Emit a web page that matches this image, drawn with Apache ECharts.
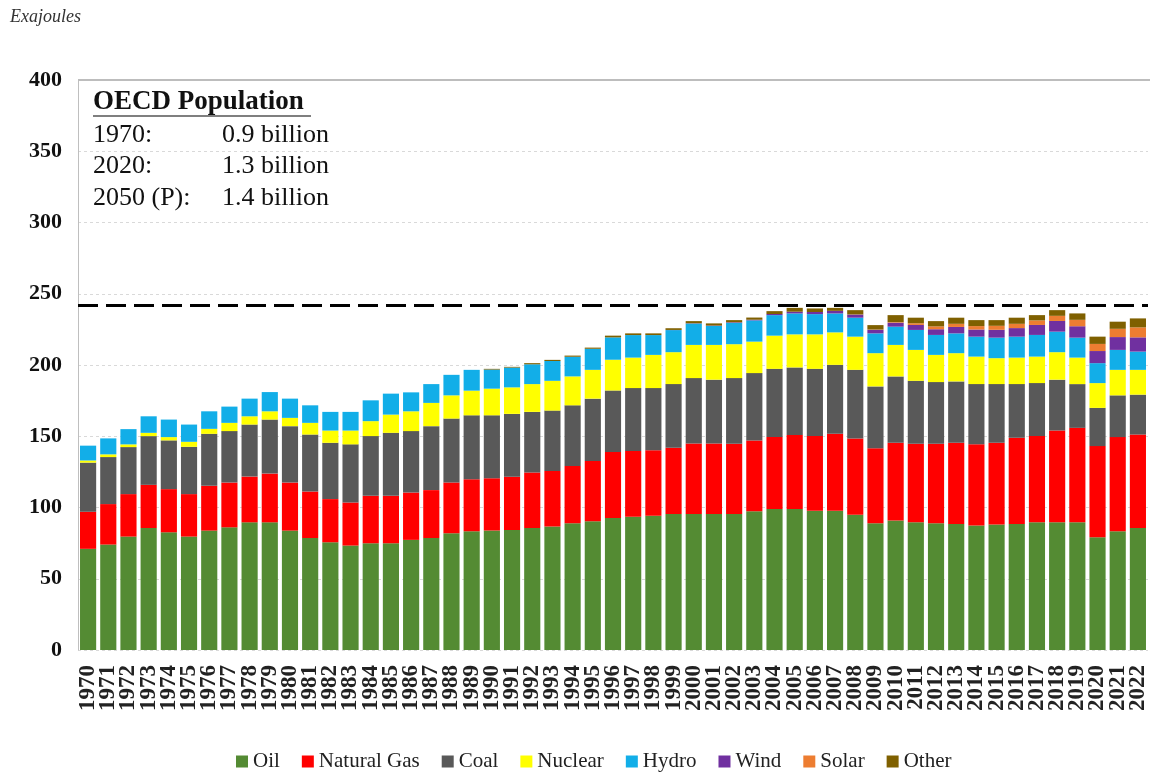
<!DOCTYPE html>
<html>
<head>
<meta charset="utf-8">
<script src="https://cdn.jsdelivr.net/npm/echarts@6/dist/echarts.min.js"></script>
<style>
  html, body { margin: 0; padding: 0; background: #fff; }
  #chart { width: 1150px; height: 773px; }
</style>
</head>
<body>
<div id="chart"></div>
<script>
const years = [];
for (let y = 1970; y <= 2022; y++) years.push(String(y));

const oil = [71.0, 74.0, 79.6, 85.6, 82.6, 79.6, 83.8, 86.1, 89.6, 89.6,
  83.8, 78.6, 75.6, 73.3, 74.9, 74.9, 77.3, 78.6, 81.9, 83.3,
  83.8, 84.2, 85.6, 86.6, 88.9, 90.3, 92.6, 93.5, 94.2, 95.4,
  95.4, 95.4, 95.4, 97.3, 98.9, 98.9, 97.7, 97.7, 94.9, 88.9,
  90.8, 89.6, 88.9, 88.4, 87.3, 88.0, 88.4, 89.6, 89.6, 89.6,
  79.1, 83.3, 85.6];
const gas = [26.0, 28.4, 29.8, 30.3, 30.3, 29.8, 31.4, 31.4, 32.1, 34.2,
  33.7, 32.6, 30.3, 30.2, 33.3, 33.3, 33.2, 33.6, 35.6, 36.5,
  36.8, 37.3, 38.9, 39.1, 40.2, 42.3, 46.3, 46.1, 45.9, 46.5,
  49.6, 49.6, 49.4, 49.8, 50.5, 51.9, 52.4, 54.0, 53.6, 52.6,
  54.6, 55.1, 55.8, 57.0, 57.0, 57.4, 60.5, 60.5, 64.4, 66.3,
  64.0, 66.1, 65.6];
const coal = [34.5, 33.0, 33.0, 34.2, 34.2, 33.2, 36.5, 36.1, 36.5, 37.9,
  39.6, 40.0, 39.5, 40.8, 41.9, 44.2, 43.1, 44.9, 44.9, 44.9,
  44.1, 44.2, 42.6, 42.3, 42.6, 43.8, 43.2, 44.2, 43.7, 44.7,
  45.8, 44.7, 46.0, 47.2, 47.9, 47.5, 47.2, 48.4, 48.1, 43.5,
  46.6, 44.2, 43.3, 43.1, 42.3, 41.2, 37.7, 37.2, 35.7, 30.7,
  26.8, 29.3, 28.0];
const nuclear = [1.5, 1.9, 1.9, 2.3, 2.3, 3.5, 3.5, 5.8, 5.8, 5.8,
  5.8, 8.2, 8.6, 9.7, 10.5, 12.8, 13.9, 16.3, 16.3, 17.3,
  18.7, 18.6, 19.5, 20.9, 20.3, 20.2, 21.6, 21.4, 23.3, 22.4,
  23.3, 24.4, 23.8, 22.1, 23.3, 23.2, 24.2, 22.8, 23.3, 23.3,
  22.1, 21.7, 19.1, 19.8, 19.3, 18.2, 18.6, 18.6, 19.3, 18.6,
  17.4, 17.9, 17.4];
const hydro = [10.4, 11.2, 10.7, 11.6, 12.3, 12.1, 12.3, 11.4, 12.4, 13.5,
  13.5, 12.3, 13.1, 13.1, 14.6, 14.7, 13.3, 13.2, 14.4, 14.6,
  13.4, 13.9, 13.9, 13.9, 13.8, 14.8, 15.7, 15.8, 13.9, 15.5,
  15.0, 13.3, 15.0, 14.9, 14.4, 14.7, 14.2, 13.3, 13.3, 13.9,
  12.8, 14.0, 14.0, 13.9, 14.0, 14.4, 14.7, 15.2, 14.4, 14.0,
  14.0, 14.0, 12.8];
const wind = [0, 0, 0, 0, 0, 0, 0, 0, 0, 0,
  0, 0, 0, 0, 0, 0, 0, 0, 0, 0,
  0, 0, 0, 0, 0, 0, 0, 0, 0, 0.1,
  0.2, 0.3, 0.4, 0.5, 0.8, 1.2, 1.5, 1.8, 2.2, 2.5,
  2.8, 3.5, 4.0, 4.5, 5.0, 5.5, 6.0, 7.0, 7.5, 8.0,
  8.5, 9.0, 10.0];
const solar = [0, 0, 0, 0, 0, 0, 0, 0, 0, 0,
  0, 0, 0, 0, 0, 0, 0, 0, 0, 0,
  0, 0, 0, 0, 0, 0, 0, 0, 0, 0,
  0, 0, 0, 0, 0, 0, 0, 0, 0.1, 0.2,
  0.4, 1.2, 2.0, 2.2, 2.4, 2.8, 3.0, 3.2, 3.6, 4.5,
  5.0, 5.8, 7.0];
const other = [0, 0, 0, 0, 0, 0, 0, 0, 0, 0,
  0, 0, 0, 0, 0, 0, 0, 0, 0, 0,
  0.5, 0.5, 0.8, 0.8, 0.8, 0.8, 1.2, 1.2, 1.2, 1.2,
  1.5, 1.5, 1.5, 1.5, 2.0, 2.7, 2.5, 2.1, 3.0, 3.1,
  4.9, 3.9, 3.7, 4.3, 4.2, 4.0, 4.3, 3.7, 4.0, 4.5,
  5.1, 5.0, 6.3];

const yTicks = [0, 50, 100, 150, 200, 250, 300, 350, 400];
const referenceLevel = 242;

const seriesDefs = [
  { name: "Oil", data: oil, color: "#548b33" },
  { name: "Natural Gas", data: gas, color: "#ff0000" },
  { name: "Coal", data: coal, color: "#595959" },
  { name: "Nuclear", data: nuclear, color: "#ffff00" },
  { name: "Hydro", data: hydro, color: "#12aee8" },
  { name: "Wind", data: wind, color: "#7030a0" },
  { name: "Solar", data: solar, color: "#ed7d31" },
  { name: "Other", data: other, color: "#7f6000" },
];

const serif = '"Liberation Serif", "DejaVu Serif", serif';

const chart = echarts.init(document.getElementById("chart"));

const series = seriesDefs.map((s, i) => {
  const item = {
    name: s.name,
    type: "bar",
    stack: "total",
    barCategoryGap: "20%",
    data: s.data,
    itemStyle: { color: s.color },
    emphasis: { disabled: true },
  };
  if (i === 0) {
    item.markLine = {
      silent: true,
      symbol: "none",
      label: { show: false },
      lineStyle: { color: "#000", width: 3, type: [20, 8] },
      data: [{ yAxis: referenceLevel }],
    };
  }
  return item;
});

const option = {
  animation: false,
  textStyle: { fontFamily: serif },
  grid: { left: 78, right: 2, top: 80, bottom: 123, containLabel: false },
  legend: {
    top: 746,
    left: 231,
    itemWidth: 12,
    itemHeight: 12,
    itemGap: 22,
    icon: "rect",
    textStyle: { fontFamily: serif, fontSize: 21, color: "#222" },
    data: seriesDefs.map((s) => s.name),
  },
  xAxis: {
    type: "category",
    data: years,
    axisLine: { show: false },
    axisTick: { show: false },
    axisLabel: {
      rotate: 90,
      interval: 0,
      margin: 15,
      fontFamily: serif,
      fontSize: 23,
      fontWeight: "bold",
      color: "#222",
    },
  },
  yAxis: {
    type: "value",
    min: 0,
    max: 400,
    interval: 50,
    axisLine: { show: true, lineStyle: { color: "#bfbfbf", width: 1 } },
    axisTick: { show: false },
    axisLabel: {
      margin: 16,
      fontFamily: serif,
      fontSize: 22,
      fontWeight: "bold",
      color: "#111",
      formatter: (v) => (yTicks.includes(v) ? String(v) : ""),
    },
    splitLine: {
      show: true,
      lineStyle: { color: "#d9d9d9", type: [3, 3], width: 1 },
    },
  },
  graphic: [
    {
      type: "text",
      left: 10,
      top: 8,
      style: { text: "Exajoules", font: 'italic 18px "Liberation Serif", serif', fill: "#333" },
    },
    {
      type: "line",
      shape: { x1: 78, y1: 80, x2: 1150, y2: 80 },
      style: { stroke: "#bdbdbd", lineWidth: 2 },
      z: 5,
    },
    {
      type: "text",
      left: 93,
      top: 89,
      style: { text: "OECD Population", font: 'bold 27px "Liberation Serif", serif', fill: "#111" },
    },
    {
      type: "line",
      shape: { x1: 93, y1: 116, x2: 311, y2: 116 },
      style: { stroke: "#555", lineWidth: 1.5 },
    },
    {
      type: "text",
      left: 93,
      top: 119,
      style: { text: "1970:\n2020:\n2050 (P):", font: '26px "Liberation Serif", serif', lineHeight: 31.5, fill: "#111" },
    },
    {
      type: "text",
      left: 222,
      top: 119,
      style: { text: "0.9 billion\n1.3 billion\n1.4 billion", font: '26px "Liberation Serif", serif', lineHeight: 31.5, fill: "#111" },
    },
  ],
  series: series,
};

chart.setOption(option);
window.addEventListener("resize", () => {
  chart && chart.resize();
});
</script>
</body>
</html>
